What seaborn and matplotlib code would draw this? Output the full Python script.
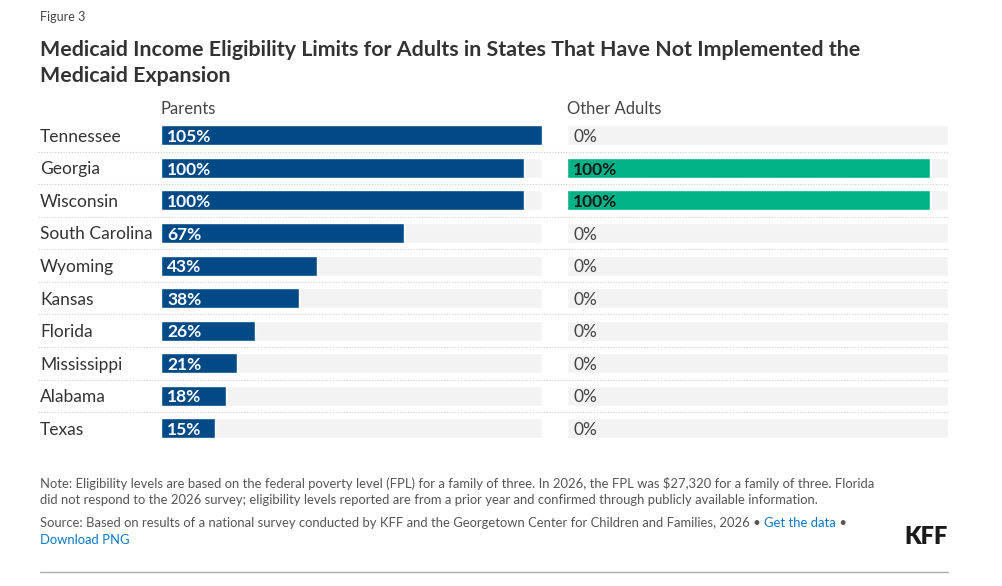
import matplotlib
matplotlib.use("Agg")
import matplotlib.pyplot as plt
import seaborn as sns
import pandas as pd
from matplotlib.lines import Line2D

states = ["Tennessee", "Georgia", "Wisconsin", "South Carolina", "Wyoming",
          "Kansas", "Florida", "Mississippi", "Alabama", "Texas"]
parents = [105, 100, 100, 67, 43, 38, 26, 21, 18, 15]
other_adults = [0, 100, 100, 0, 0, 0, 0, 0, 0, 0]
panel_titles = ["Parents", "Other Adults"]

sns.set_theme(style="white")
plt.rcParams['font.family'] = ['Lato', 'DejaVu Sans']

W, H = 1003, 586
fig = plt.figure(figsize=(W / 100, H / 100), dpi=100)

def fx(px):
    return px / W

def fy(py):
    return 1 - py / H

XMAX = 105
BLUE = "#024a86"
GREEN = "#00b387"
BG = "#f3f3f3"
TXT = "#333333"

row_h = 32.56
top = 135.3 - row_h / 2
bottom = top + row_h * len(states)

df = pd.DataFrame({"state": states, "Parents": parents, "Other Adults": other_adults})

panels = [("Parents", 161, BLUE, "white"), ("Other Adults", 567, GREEN, "#1a1a1a")]
for col, x0, color, lblcolor in panels:
    ax = fig.add_axes([fx(x0), fy(bottom), fx(381), (bottom - top) / H])
    ax.barh(range(len(states)), [XMAX] * len(states), height=0.615, color=BG, left=0)
    sns.barplot(data=df, x=col, y="state", ax=ax, color=color, width=0.615,
                saturation=1, orient="h")
    ax.set_xlim(0, XMAX)
    ax.set_ylim(len(states) - 0.5, -0.5)
    ax.axis("off")
    vals = df[col].tolist()
    for i, v in enumerate(vals):
        if v > 0:
            ax.annotate(f"{v}%", xy=(0, i), xytext=(4.5, -1.2), textcoords="offset points",
                        va="center", ha="left", fontsize=12.5, fontweight="bold",
                        color=lblcolor)
        else:
            ax.annotate(f"{v}%", xy=(0, i), xytext=(4.5, -1.2), textcoords="offset points",
                        va="center", ha="left", fontsize=12.5, color="#444444")
    fig.text(fx(x0), fy(109), col, fontsize=12, color="#444444", va="center", ha="left")

# state labels
for i, s in enumerate(states):
    yc = top + row_h * (i + 0.5) + 1.5
    fig.text(fx(40), fy(yc), s, fontsize=12.5, color=TXT, va="center", ha="left")

# dotted separators
for i in range(1, len(states)):
    yl = top + row_h * i
    fig.add_artist(Line2D([fx(38), fx(948)], [fy(yl), fy(yl)], color="#cccccc",
                          linestyle=(0, (1, 1.5)), linewidth=0.8))

# header
fig.text(fx(40), fy(17), "Figure 3", fontsize=9, color="#444444", va="center")
fig.text(fx(40), fy(50), "Medicaid Income Eligibility Limits for Adults in States That Have Not Implemented the",
         fontsize=15.4, fontweight="bold", color=TXT, va="center")
fig.text(fx(40), fy(76), "Medicaid Expansion",
         fontsize=15.4, fontweight="bold", color=TXT, va="center")

# notes
NOTE = "#555555"
FS = 9.36
fig.text(fx(40), fy(484), "Note: Eligibility levels are based on the federal poverty level (FPL) for a family of three. In 2026, the FPL was $27,320 for a family of three. Florida",
         fontsize=FS, color=NOTE, va="center")
fig.text(fx(40), fy(500), "did not respond to the 2026 survey; eligibility levels reported are from a prior year and confirmed through publicly available information.",
         fontsize=FS, color=NOTE, va="center")

fig.canvas.draw()
r = fig.canvas.get_renderer()
t1 = fig.text(fx(40), fy(523), "Source: Based on results of a national survey conducted by KFF and the Georgetown Center for Children and Families, 2026 \u2022 ",
              fontsize=FS, color=NOTE, va="center")
bb = t1.get_window_extent(r)
t2 = fig.text(bb.x1 / W, fy(523), "Get the data", fontsize=FS, color="#0a77c9", va="center")
bb2 = t2.get_window_extent(r)
fig.text(bb2.x1 / W, fy(523), " \u2022", fontsize=FS, color=NOTE, va="center")
fig.text(fx(40), fy(540), "Download PNG", fontsize=FS, color="#0a77c9", va="center")

fig.text(fx(948), fy(537), "KFF", fontsize=17, fontweight="heavy", color="#1a1a1a",
         va="center", ha="right")

fig.add_artist(Line2D([fx(40), fx(948)], [fy(572), fy(572)], color="#aaaaaa", linewidth=1))

fig.savefig("out.png", dpi=100, facecolor="white")
